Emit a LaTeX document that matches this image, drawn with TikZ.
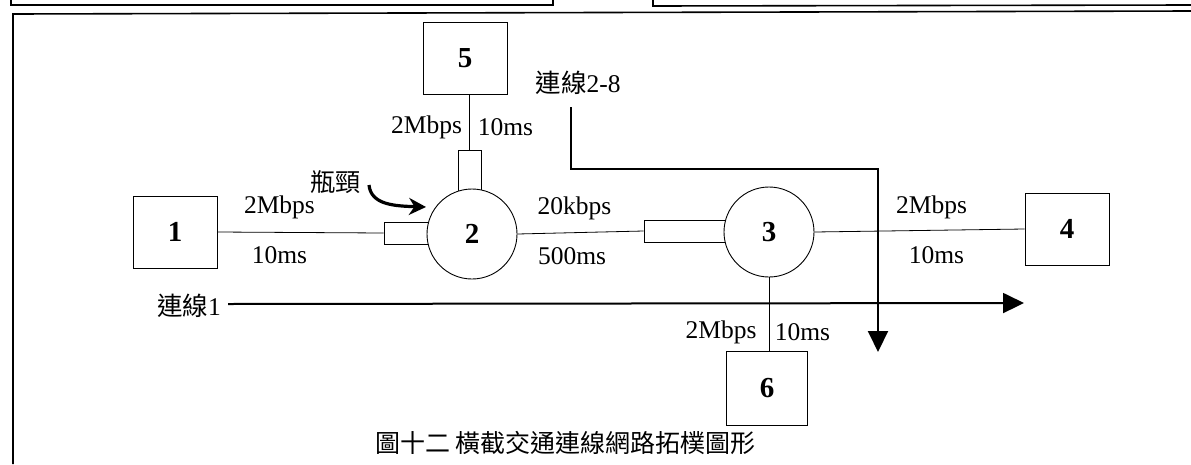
\documentclass[tikz,border=0pt]{standalone}
\usepackage{fontspec}
\setmainfont{Liberation Serif}
\newfontfamily\cjk{Noto Sans CJK TC}
\usetikzlibrary{arrows.meta}
\begin{document}
\begin{tikzpicture}[x=1pt,y=-1pt,
  every node/.style={font=\fontsize{25}{27}\selectfont, inner sep=0pt},
  hostbox/.style={draw, line width=0.9pt, minimum width=84pt, minimum height=72pt, font=\fontsize{29}{31}\selectfont\bfseries},
  router/.style={draw, circle, fill=white, line width=0.9pt, minimum size=90pt, font=\fontsize{29}{31}\selectfont\bfseries},
  queue/.style={draw, fill=white, line width=0.9pt},
  link/.style={line width=0.8pt},
  flow/.style={line width=2pt, -{Triangle[length=21pt,width=20pt]}},
  frame/.style={line width=1.6pt},
  lbl/.style={font=\fontsize{25.5}{27}\selectfont},
  cjklbl/.style={font=\cjk\fontsize{25}{28}\selectfont}
]
\useasboundingbox (0,0) rectangle (1191,464);
% frame fragments
\draw[frame] (11,0) -- (11,5) -- (553,5) -- (553,0);
\draw[frame] (653,0) -- (653,6) -- (1191,5);
\draw[frame] (13,464) -- (13,14) -- (1191,11);

% queues (drawn before routers so routers cover their ends)
\node[queue, minimum width=23pt, minimum height=42pt] (q2top) at (469.5,171) {};
\node[queue, minimum width=48pt, minimum height=22pt] (q2left) at (408,233) {};
\node[queue, minimum width=88pt, minimum height=22pt] (q3) at (688,231) {};
\draw[line width=2.6pt] (q2top.south west) -- (q2top.south east);

% routers
\node[router] (c2) at (472,234) {2};
\node[router] (c3) at (769,232) {3};

% hosts
\node[hostbox] (n1) at (175,232) {1};
\node[hostbox] (n4) at (1067,229) {4};
\node[hostbox] (n5) at (465,58) {5};
\node[hostbox, minimum width=81pt, minimum height=74pt] (n6) at (767,388) {6};

% links
\draw[link] (q2top.north) -- (q2top.north |- n5.south);
\draw[link] (n1.east) -- (q2left.west);
\draw[link] (c2.east) -- (q3.west);
\draw[link] (c3.east) -- (n4.west);
\draw[link] (c3.south) -- (c3.south |- n6.north);

% link labels
\node[lbl] (t5a) at (426.5,127) {2Mbps};
\node[lbl] (t5b) at (505.5,127) {10ms};
\node[lbl] (t1a) at (279.5,207) {2Mbps};
\node[lbl] (t1b) at (279.5,255) {10ms};
\node[lbl] (t2a) at (574.5,208) {20kbps};
\node[lbl] (t2b) at (572,256) {500ms};
\node[lbl] (t4a) at (931.5,207) {2Mbps};
\node[lbl] (t4b) at (936.5,255) {10ms};
\node[lbl] (t6a) at (721,332) {2Mbps};
\node[lbl] (t6b) at (802.5,332) {10ms};

% bottleneck
\node[cjklbl] (bn) at (335,182) {瓶頸};
\coordinate (bs) at (369,185);
\coordinate (be) at (426,207);
\draw[line width=3.2pt, -{Stealth[length=17pt,width=17pt]}] (bs) .. controls (371,205) and (395,206) .. (be);

% flows
\node[lbl, anchor=east] (f1) at (221,306) {{\cjk 連線}1};
\coordinate (f1s) at (228,304);
\coordinate (f1e) at (1024,303);
\draw[flow] (f1s) -- (f1e);

\node[lbl] (f2) at (578,83) {{\cjk 連線}2-8};
\coordinate (f2s) at (571,107);
\coordinate (f2e) at (878,352);
\draw[flow] (f2s) |- (878,169) -- (f2e);

% caption
\node[cjklbl] (cap) at (565.5,443) {圖十二 橫截交通連線網路拓樸圖形};
\end{tikzpicture}
\end{document}
